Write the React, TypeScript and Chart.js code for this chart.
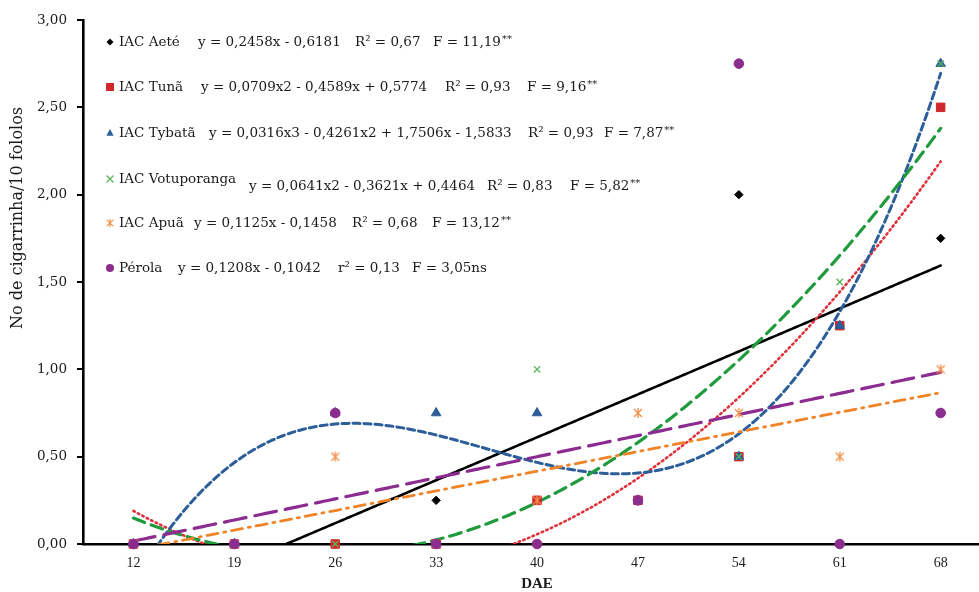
import React, { useEffect, useRef } from 'react';
import { Chart, registerables } from 'chart.js';

Chart.register(...registerables);

// ---- data ----
const DAE = ['12', '19', '26', '33', '40', '47', '54', '61', '68'];
const Y_TICKS = [0, 0.5, 1, 1.5, 2, 2.5, 3];

const AETE = [0, 0, 0, 0.25, 0, 0.25, 2, 1.25, 1.75];
const TUNA = [0, 0, 0, 0, 0.25, 0.25, 0.5, 1.25, 2.5];
const TYBATA = [0, 0, 0.75, 0.75, 0.75, 0.25, 0.5, 1.25, 2.75];
const VOTUPORANGA = [0, 0, 0, 0, 1, 0.25, 0.5, 1.5, 2.75];
const APUA = [0, 0, 0.5, 0, 0.25, 0.75, 0.75, 0.5, 1];
const PEROLA = [0, 0, 0.75, 0, 0, 0.25, 2.75, 0, 0.75];

// trendline coefficients (highest degree first), x = DAE position 1..9
const AETE_FIT = [0.2458, -0.6181];
const TUNA_FIT = [0.0709, -0.4589, 0.5774];
const TYBATA_FIT = [0.0316, -0.4261, 1.7506, -1.5833];
const VOTUPORANGA_FIT = [0.0641, -0.3621, 0.4464];
const APUA_FIT = [0.1125, -0.1458];
const PEROLA_FIT = [0.1208, -0.1042];

const NAMES = ['IAC Aeté', 'IAC Tunã', 'IAC Tybatã', 'IAC Votuporanga', 'IAC Apuã', 'Pérola'];
const EQUATIONS = [
  'y = 0,2458x - 0,6181',
  'y = 0,0709x2 - 0,4589x + 0,5774',
  'y = 0,0316x3 - 0,4261x2 + 1,7506x - 1,5833',
  'y = 0,0641x2 - 0,3621x + 0,4464',
  'y = 0,1125x - 0,1458',
  'y = 0,1208x - 0,1042',
];
const R2_TEXT = ['R² = 0,67', 'R² = 0,93', 'R² = 0,93', 'R² = 0,83', 'R² = 0,68', 'r² = 0,13'];
const F_TEXT = ['F = 11,19', 'F = 9,16', 'F = 7,87', 'F = 5,82', 'F = 13,12', 'F = 3,05'];
const F_SIG = ['**', '**', '**', '**', '**', 'ns'];

const Y_TITLE = 'No de cigarrinha/10 fololos';
const X_TITLE = 'DAE';

// ---- layout / style ----
const W = 979;
const H = 592;
const LEGEND_ROWS = [
  { y: 42, eqY: 42, name: 119, eq: 198, r2: 355, f: 433 },
  { y: 87, eqY: 87, name: 119, eq: 201, r2: 445, f: 527 },
  { y: 133, eqY: 133, name: 119, eq: 209, r2: 528, f: 604 },
  { y: 179, eqY: 186, name: 119, eq: 249, r2: 487, f: 570 },
  { y: 223, eqY: 223, name: 119, eq: 194, r2: 352, f: 432 },
  { y: 268, eqY: 268, name: 119, eq: 178, r2: 338, f: 412 },
];

const STYLES = [
  { marker: '#000000', line: '#000000', dash: [], width: 2.6, point: 'rectRot', r: 4.2 },
  { marker: '#d0282c', line: '#e0303a', dash: [1.5, 3.5], width: 2.6, point: 'rect', r: 6 },
  { marker: '#2c5e97', line: '#2c5e99', dash: [7, 4], width: 3, point: 'triangle', r: 5.5 },
  { marker: '#57b45a', line: '#1f9a3c', dash: [12, 7], width: 3.2, point: 'crossRot', r: 4.5 },
  { marker: '#f0904a', line: '#f08326', dash: [11, 6, 2, 6], width: 2.8, point: 'asterisk', r: 5 },
  { marker: '#8b2d8f', line: '#8c2b90', dash: [22, 9], width: 3.2, point: 'circle', r: 4.8 },
];

const SERIES = [AETE, TUNA, TYBATA, VOTUPORANGA, APUA, PEROLA];
const FITS = [AETE_FIT, TUNA_FIT, TYBATA_FIT, VOTUPORANGA_FIT, APUA_FIT, PEROLA_FIT];

const polyAt = (c: number[], x: number) => c.reduce((acc, k) => acc * x + k, 0);

function trendPoints(c: number[]) {
  const pts: { x: number; y: number }[] = [];
  for (let i = 0; i <= 320; i++) {
    const x = 1 + i * 0.025;
    pts.push({ x, y: polyAt(c, x) });
  }
  return pts;
}

function makeAsterisk(color: string, r: number) {
  const size = Math.ceil(r * 2 + 4);
  const c = document.createElement('canvas');
  c.width = size;
  c.height = size;
  const g = c.getContext('2d')!;
  const m = size / 2;
  g.strokeStyle = color;
  g.lineWidth = 1.3;
  g.beginPath();
  g.moveTo(m, m - r);
  g.lineTo(m, m + r);
  const d = r * 0.8;
  g.moveTo(m - d, m - d);
  g.lineTo(m + d, m + d);
  g.moveTo(m + d, m - d);
  g.lineTo(m - d, m + d);
  g.stroke();
  return c;
}

function drawMarker(ctx: CanvasRenderingContext2D, kind: string, x: number, y: number, r: number, color: string) {
  ctx.save();
  ctx.fillStyle = color;
  ctx.strokeStyle = color;
  ctx.lineWidth = 1.2;
  ctx.beginPath();
  if (kind === 'rectRot') {
    ctx.moveTo(x, y - r);
    ctx.lineTo(x + r, y);
    ctx.lineTo(x, y + r);
    ctx.lineTo(x - r, y);
    ctx.closePath();
    ctx.fill();
  } else if (kind === 'rect') {
    ctx.rect(x - r, y - r, 2 * r, 2 * r);
    ctx.fill();
  } else if (kind === 'triangle') {
    ctx.moveTo(x, y - r);
    ctx.lineTo(x + r * 0.9, y + r * 0.7);
    ctx.lineTo(x - r * 0.9, y + r * 0.7);
    ctx.closePath();
    ctx.fill();
  } else if (kind === 'crossRot') {
    ctx.moveTo(x - r, y - r);
    ctx.lineTo(x + r, y + r);
    ctx.moveTo(x + r, y - r);
    ctx.lineTo(x - r, y + r);
    ctx.stroke();
  } else if (kind === 'asterisk') {
    ctx.moveTo(x, y - r);
    ctx.lineTo(x, y + r);
    const d = r * 0.8;
    ctx.moveTo(x - d, y - d);
    ctx.lineTo(x + d, y + d);
    ctx.moveTo(x + d, y - d);
    ctx.lineTo(x - d, y + d);
    ctx.stroke();
  } else {
    ctx.arc(x, y, r, 0, Math.PI * 2);
    ctx.fill();
  }
  ctx.restore();
}

const LEGEND_MARK_SIZE = [3.5, 4, 4, 3.5, 4, 4];

const overlayPlugin = {
  id: 'overlay',
  afterDraw(chart: any) {
    const ctx: CanvasRenderingContext2D = chart.ctx;
    ctx.save();
    ctx.textBaseline = 'middle';
    ctx.textAlign = 'left';
    LEGEND_ROWS.forEach((row, i) => {
      drawMarker(ctx, STYLES[i].point, 110, row.y, LEGEND_MARK_SIZE[i], STYLES[i].marker);
      ctx.fillStyle = '#1a1a1a';
      ctx.font = '13.5px "DejaVu Serif"';
      ctx.fillText(NAMES[i], row.name, row.y);
      ctx.fillText(EQUATIONS[i], row.eq, row.eqY);
      ctx.fillText(R2_TEXT[i], row.r2, row.eqY);
      ctx.fillText(F_TEXT[i], row.f, row.eqY);
      const fw = ctx.measureText(F_TEXT[i]).width;
      if (F_SIG[i] === '**') {
        ctx.font = '10px "DejaVu Serif"';
        ctx.fillText(F_SIG[i], row.f + fw + 1, row.eqY - 3);
      } else {
        ctx.fillText(F_SIG[i], row.f + fw, row.eqY);
      }
    });
    // axis titles
    ctx.fillStyle = '#1a1a1a';
    ctx.font = '16px "DejaVu Serif"';
    ctx.save();
    ctx.translate(18, 218);
    ctx.rotate(-Math.PI / 2);
    ctx.textAlign = 'center';
    ctx.fillText(Y_TITLE, 0, 0);
    ctx.restore();
    ctx.font = 'bold 15px "Liberation Serif"';
    ctx.textAlign = 'center';
    ctx.fillText(X_TITLE, 537, 584);
    ctx.restore();
  },
};

export default function App() {
  const ref = useRef<HTMLCanvasElement | null>(null);

  useEffect(() => {
    document.body.style.margin = '0';
    const canvas = ref.current;
    if (!canvas) return;

    const markerSets = SERIES.map((s, i) => {
      const st = STYLES[i];
      return {
        type: 'scatter' as const,
        label: NAMES[i],
        data: s.map((v, k) => ({ x: k + 1, y: v })),
        pointStyle: st.point === 'asterisk' ? makeAsterisk(st.marker, st.r) : st.point,
        pointRadius: st.r,
        pointBackgroundColor: st.marker,
        pointBorderColor: st.marker,
        pointBorderWidth: st.point === 'crossRot' ? 1.3 : 1,
        showLine: false,
        clip: false,
        order: 10 - i,
      };
    });

    const trendSets = FITS.map((c, i) => {
      const st = STYLES[i];
      return {
        type: 'line' as const,
        label: NAMES[i] + ' trend',
        data: trendPoints(c),
        borderColor: st.line,
        borderWidth: st.width,
        borderDash: st.dash,
        borderCapStyle: 'round' as const,
        pointRadius: 0,
        tension: 0,
        fill: false,
        order: 20 - i,
      };
    });

    const chart = new Chart(canvas, {
      type: 'scatter',
      data: { datasets: [...trendSets, ...markerSets] as any },
      plugins: [overlayPlugin],
      options: {
        animation: false,
        responsive: false,
        layout: { autoPadding: false, padding: { top: 20, right: 0, left: 0, bottom: 0 } },
        plugins: { legend: { display: false }, tooltip: { enabled: false } },
        scales: {
          x: {
            type: 'linear',
            min: 0.5,
            max: 9.38,
            afterBuildTicks: (scale: any) => {
              scale.ticks = DAE.map((_, i) => ({ value: i + 1 }));
            },
            afterFit: (scale: any) => {
              scale.height = 48;
              scale.paddingLeft = 0;
              scale.paddingRight = 0;
            },
            ticks: {
              callback: (v: any) => DAE[Math.round(Number(v)) - 1] ?? '',
              font: { family: '"Liberation Serif"', size: 14 },
              color: '#1a1a1a',
              padding: 11,
              maxRotation: 0,
              autoSkip: false,
            },
            grid: { display: true, drawOnChartArea: false, drawTicks: false },
            border: { display: true, color: '#000000', width: 2.6 },
          },
          y: {
            type: 'linear',
            min: 0,
            max: 3,
            afterBuildTicks: (scale: any) => {
              scale.ticks = Y_TICKS.map((v) => ({ value: v }));
            },
            afterFit: (scale: any) => {
              scale.width = 83;
            },
            ticks: {
              callback: (v: any) => Number(v).toFixed(2).replace('.', ','),
              font: { family: '"DejaVu Serif"', size: 13.5 },
              color: '#1a1a1a',
              padding: 10,
            },
            grid: {
              display: true,
              drawOnChartArea: false,
              drawTicks: true,
              tickLength: 6,
              color: '#000000',
              lineWidth: 2,
            },
            border: { display: true, color: '#000000', width: 2.6 },
          },
        },
      },
    });

    return () => chart.destroy();
  }, []);

  return (
    <div style={{ width: W, height: H, background: '#ffffff' }}>
      <canvas ref={ref} width={W} height={H} style={{ display: 'block', width: W, height: H }} />
    </div>
  );
}
